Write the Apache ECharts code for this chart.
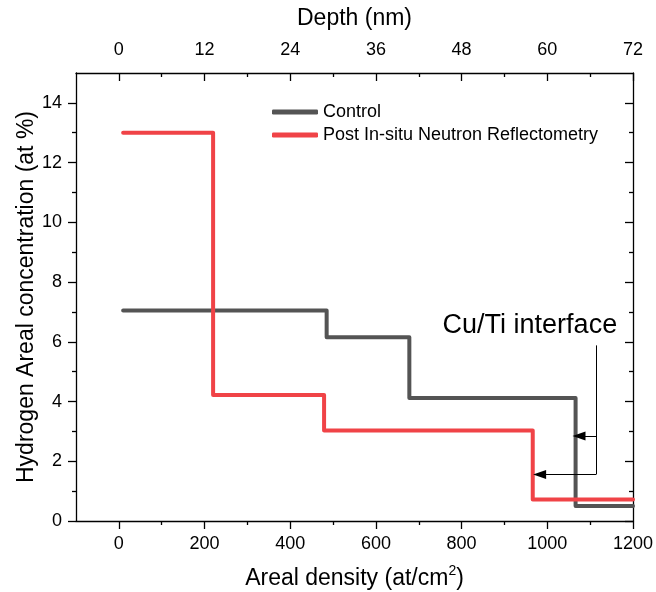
<!DOCTYPE html>
<html>
<head>
<meta charset="utf-8">
<script src="https://cdn.jsdelivr.net/npm/echarts@6/dist/echarts.min.js"></script>
<style>
  html, body { margin: 0; padding: 0; background: #fff; }
  #hprofile { width: 656px; height: 592px; }
</style>
</head>
<body>
<div id="hprofile"></div>
<script>
// step profiles: layer boundaries (areal density) and H level inside each layer
var controlEdges = [10, 485, 678, 1066, 1200];
var controlLevels = [7.05, 6.15, 4.12, 0.5];
var postEdges = [10, 220, 479, 966, 1200];
var postLevels = [13.0, 4.22, 3.03, 0.72];

var seriesNames = ['Control', 'Post In-situ Neutron Reflectometry'];

var densityTicks = [0, 200, 400, 600, 800, 1000, 1200];
var densityMinor = [100, 300, 500, 700, 900, 1100];
var depthTicks = [0, 12, 24, 36, 48, 60, 72];
var depthMinor = [6, 18, 30, 42, 54, 66];
var concTicks = [0, 2, 4, 6, 8, 10, 12, 14];
var concMinor = [1, 3, 5, 7, 9, 11, 13];

// Cu/Ti interface callout (data coordinates)
var calloutX = 1114;
var calloutTop = 5.88;
var calloutArrows = [[1074, 2.85], [982, 1.56]];
var calloutText = 'Cu/Ti interface';

function stepPoints(edges, levels) {
    return edges.map(function (x, i) {
        return [x, levels[Math.min(i, levels.length - 1)]];
    });
}

var FONT = 'Liberation Sans, Arial, sans-serif';
var INK = '#000';

function axisBase(pos, min, max, ticks, len, inside, labels) {
    return {
        type: 'value', position: pos, min: min, max: max,
        axisLine: { show: labels !== null, onZero: false, lineStyle: { color: INK, width: 1.3 } },
        axisTick: { show: true, customValues: ticks, inside: inside, length: len,
                    lineStyle: { color: INK, width: 1.3 } },
        axisLabel: labels ? { show: true, customValues: ticks, color: INK, fontSize: 18,
                              fontFamily: FONT, margin: 14,
                              formatter: function (v) { return String(v); } } : { show: false },
        splitLine: { show: false }
    };
}

var hprofile = echarts.init(document.getElementById('hprofile'));

var xBottom = axisBase('bottom', -100, 1200, densityTicks, 8, false, true);
xBottom.name = '{t|Areal density (at/cm}{sup|2}{t|)}';
xBottom.nameLocation = 'middle';
xBottom.nameGap = 43;
xBottom.nameTextStyle = { color: INK, fontSize: 23, fontFamily: FONT,
    rich: {
        t: { fontSize: 23, fontFamily: FONT, color: INK, lineHeight: 26, verticalAlign: 'bottom' },
        sup: { fontSize: 14, fontFamily: FONT, color: INK, lineHeight: 26, verticalAlign: 'top' }
    } };

var xTop = axisBase('top', -6, 72, depthTicks, 8, true, true);
xTop.name = 'Depth (nm)';
xTop.nameLocation = 'middle';
xTop.nameGap = 43;
xTop.nameTextStyle = { color: INK, fontSize: 23, fontFamily: FONT };

var xBottomMinor = axisBase('bottom', -100, 1200, densityMinor, 4, false, null);
var xTopMinor = axisBase('top', -6, 72, depthMinor, 4, true, null);

var yLeft = axisBase('left', 0, 15, concTicks, 8, false, true);
yLeft.name = 'Hydrogen Areal concentration (at %)';
yLeft.nameLocation = 'middle';
yLeft.nameGap = 38;
yLeft.nameMoveOverlap = false;
yLeft.nameTextStyle = { color: INK, fontSize: 23, fontFamily: FONT };

var yRight = axisBase('right', 0, 15, concTicks, 8, true, false);
yRight.axisLine.show = true;
var yLeftMinor = axisBase('left', 0, 15, concMinor, 4, false, null);
var yRightMinor = axisBase('right', 0, 15, concMinor, 4, true, null);

var option = {
    backgroundColor: '#fff',
    animation: false,
    grid: { left: 76, right: 23, top: 73, bottom: 71, containLabel: false, outerBoundsMode: 'none' },
    legend: {
        orient: 'vertical', left: 267, top: 98,
        itemWidth: 46, itemHeight: 5, itemGap: 5,
        icon: 'roundRect',
        textStyle: { color: INK, fontSize: 18, fontFamily: FONT },
        data: seriesNames
    },
    xAxis: [xBottom, xTop, xBottomMinor, xTopMinor],
    yAxis: [yLeft, yRight, yLeftMinor, yRightMinor],
    series: [{
        name: seriesNames[0],
        type: 'line', step: 'end', symbol: 'none',
        xAxisIndex: 0, yAxisIndex: 0,
        color: '#545454',
        lineStyle: { width: 4, color: '#545454', join: 'round', cap: 'round' },
        data: stepPoints(controlEdges, controlLevels),
        z: 3
    }, {
        name: seriesNames[1],
        type: 'line', step: 'end', symbol: 'none',
        xAxisIndex: 0, yAxisIndex: 0,
        color: '#f04347',
        lineStyle: { width: 4, color: '#f04347', join: 'round', cap: 'round' },
        data: stepPoints(postEdges, postLevels),
        z: 4
    }, {
        name: 'callout',
        type: 'line', xAxisIndex: 0, yAxisIndex: 0,
        data: [],
        markLine: {
            silent: true, animation: false,
            label: { show: false },
            lineStyle: { color: INK, width: 1, type: 'solid' },
            symbolSize: [9, 13],
            data: [
                [{ coord: [calloutX, calloutTop], symbol: 'none' },
                 { coord: [calloutX, calloutArrows[1][1]], symbol: 'none' }]
            ].concat(calloutArrows.map(function (a) {
                return [{ coord: [calloutX, a[1]], symbol: 'none' },
                        { coord: [a[0], a[1]], symbol: 'triangle' }];
            }))
        },
        z: 5
    }]
};

hprofile.setOption(option, true);

var anchor = hprofile.convertToPixel({ xAxisIndex: 0, yAxisIndex: 0 }, [1163, 6.55]);
hprofile.setOption({
    graphic: [{
        type: 'text', x: anchor[0], y: anchor[1],
        style: { text: calloutText, fill: INK, font: '27px ' + FONT,
                 align: 'right', verticalAlign: 'middle' }
    }]
});

window.addEventListener('resize', function () {
    hprofile.resize();
});
</script>
</body>
</html>
